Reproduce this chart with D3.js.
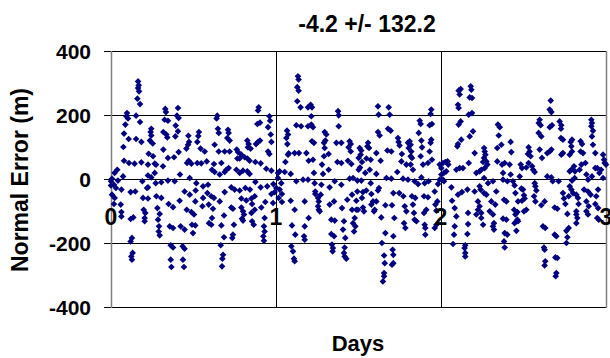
<!DOCTYPE html>
<html>
<head>
<meta charset="utf-8">
<script src="https://cdn.jsdelivr.net/npm/d3@7"></script>
<style>
  html, body { margin: 0; padding: 0; background: #fff; }
  svg text { font-family: "Liberation Sans", Arial, sans-serif; font-weight: bold; fill: #000; }
</style>
</head>
<body>
<svg id="chart" width="610" height="358"></svg>
<script>
// chart values
const title = "-4.2 +/- 132.2";
const xTicks = [0, 1, 2, 3];
const yTicks = [-400, -200, 0, 200, 400];

// day of each sample
const days = [
  0.164,0.168,0.164,0.170,0.160,0.176,0.097,0.093,0.103,0.087,0.079,0.107,0.075,0.079,0.109,0.143,0.184,0.152,0.176,0.152,
  0.184,0.329,0.333,0.325,0.345,0.317,0.335,0.341,0.406,0.400,0.410,0.392,0.406,0.390,0.244,0.240,0.244,0.236,0.253,0.228,
  0.255,0.224,0.265,0.469,0.467,0.457,0.473,0.533,0.529,0.523,0.543,0.568,0.317,0.345,0.382,0.410,0.471,0.461,0.487,0.523,
  0.547,0.580,0.273,0.265,0.244,0.224,0.315,0.418,0.386,0.345,0.305,0.271,0.224,0.190,0.218,0.038,0.022,0.073,0.006,0.000,
  0.042,0.018,0.063,0.030,0.006,0.022,0.018,0.059,0.063,0.063,0.000,0.119,0.147,0.194,0.224,0.198,0.208,0.204,0.204,0.135,
  0.119,0.275,0.305,0.281,0.295,0.285,0.291,0.289,0.295,0.349,0.376,0.416,0.446,0.477,0.513,0.517,0.477,0.511,0.558,0.584,
  0.588,0.558,0.459,0.487,0.503,0.422,0.446,0.491,0.511,0.497,0.554,0.592,0.594,0.356,0.376,0.127,0.119,0.131,0.123,0.127,
  0.362,0.376,0.434,0.446,0.362,0.366,0.436,0.442,
  0.644,0.640,0.648,0.653,0.628,0.653,0.689,0.719,0.624,0.669,0.709,0.713,0.705,0.719,0.762,0.770,0.766,0.780,0.790,0.826,
  0.834,0.830,0.846,0.810,0.826,0.840,0.895,0.891,0.887,0.903,0.891,0.903,0.879,0.960,0.964,0.952,0.968,0.972,0.952,0.960,
  0.875,0.907,0.941,0.972,0.699,0.713,0.689,0.760,0.780,0.800,0.826,0.840,0.659,0.628,0.612,0.729,0.749,0.780,0.814,0.842,
  0.875,0.907,0.947,0.984,0.608,0.624,0.689,0.659,0.618,0.612,0.608,0.729,0.739,0.790,0.820,0.851,0.871,0.790,0.800,0.806,
  0.794,0.800,0.855,0.851,0.871,0.855,0.865,0.911,0.935,0.972,0.982,0.931,0.927,0.931,0.923,0.927,0.745,0.739,0.735,0.685,
  0.669,0.685,0.665,0.679,0.675,0.673,1.012,1.022,1.012,1.032,1.002,1.022,0.992,1.036,1.016,1.036,1.053,1.089,1.073,1.057,
  1.077,1.069,1.063,1.073,1.067,1.133,1.137,1.129,1.137,1.129,1.149,1.123,1.152,1.194,1.113,1.139,1.184,1.198,1.123,1.164,
  1.194,1.089,1.113,1.174,1.097,1.117,1.174,1.170,1.174,1.093,1.103,1.109,1.113,1.194,
  1.210,1.218,1.214,1.214,1.224,1.218,1.230,1.224,1.230,1.234,1.238,1.238,1.255,1.259,1.255,1.259,1.265,1.275,1.271,1.198,
  1.295,1.305,1.299,1.291,1.295,1.319,1.291,1.279,1.319,1.285,1.376,1.380,1.380,1.366,1.396,1.372,1.396,1.325,1.356,1.396,
  1.352,1.325,1.335,1.356,1.335,1.352,1.339,1.345,1.343,1.400,1.412,1.406,1.420,1.416,1.412,1.416,1.426,1.446,1.453,1.440,
  1.453,1.436,1.457,1.446,1.467,1.432,1.461,1.461,1.487,1.477,1.467,1.481,1.473,1.507,1.517,1.513,1.501,1.521,1.509,1.501,
  1.493,1.517,1.493,1.527,1.487,1.521,1.497,1.527,1.533,1.558,1.554,1.564,1.548,1.574,1.541,1.568,1.574,1.547,1.578,1.588,
  1.578,1.598,1.594,1.608,1.634,1.608,1.624,1.618,1.608,1.618,1.622,1.618,1.628,1.683,1.689,1.679,1.695,1.675,1.699,1.669,
  1.699,1.663,1.703,1.638,1.663,1.642,1.655,1.659,1.655,1.655,1.648,1.711,1.707,1.711,1.711,1.703,1.717,1.711,1.747,1.772,
  1.739,1.743,1.749,1.763,1.760,1.735,1.770,1.800,1.800,1.804,1.790,1.780,1.790,1.776,1.784,
  1.810,1.816,1.820,1.816,1.824,1.816,1.830,1.871,1.877,1.865,1.881,1.885,1.877,1.891,1.881,1.840,1.861,1.824,1.844,1.830,
  1.836,1.840,1.851,1.941,1.937,1.931,1.945,1.941,1.937,1.931,1.921,1.945,1.901,1.925,1.897,1.921,1.911,1.897,1.901,1.905,
  1.905,1.962,1.982,1.992,1.966,1.972,1.972,1.962,1.978,2.002,1.992,2.012,2.026,2.040,2.044,2.018,2.032,2.002,2.012,2.018,
  2.063,2.067,2.083,2.093,2.083,2.079,2.073,2.093,2.113,2.133,2.103,2.099,2.123,2.107,2.119,2.107,2.103,2.113,2.119,2.107,
  2.180,2.184,2.174,2.188,2.168,2.188,2.174,2.194,2.204,2.168,2.160,2.164,2.164,2.160,2.147,2.143,2.147,2.147,2.103,2.127,
  2.204,2.214,2.234,2.234,2.240,2.224,2.234,2.224,2.214,2.261,2.265,2.269,2.261,2.275,2.255,2.281,2.265,2.244,2.261,2.285,
  2.261,2.275,2.244,2.255,2.244,2.315,2.335,2.305,2.329,2.315,2.321,2.315,2.321,2.295,2.345,2.356,2.350,2.341,2.366,2.341,
  2.370,2.386,2.376,2.376,2.402,2.382,2.396,2.376,2.396,2.386,2.402,2.382,2.386,
  2.422,2.426,2.416,2.422,2.436,2.446,2.451,2.467,2.443,2.463,2.451,2.463,2.446,2.457,2.483,2.491,2.477,2.487,2.497,2.503,
  2.507,2.491,2.503,2.517,2.467,2.531,2.537,2.527,2.543,2.531,2.517,2.552,2.558,2.568,2.568,2.572,2.578,2.564,2.572,2.598,
  2.592,2.604,2.592,2.608,2.598,2.612,2.608,2.628,2.618,2.632,2.624,2.628,2.632,2.628,2.665,2.659,2.669,2.659,2.673,2.644,
  2.659,2.669,2.644,2.669,2.677,2.689,2.705,2.689,2.699,2.693,2.705,2.699,2.695,2.719,2.729,2.727,2.727,2.739,2.729,2.739,
  2.713,2.739,2.745,2.754,2.774,2.766,2.760,2.766,2.760,2.774,2.780,2.790,2.794,2.810,2.780,2.790,2.806,2.780,2.794,2.790,
  2.786,2.794,2.812,2.800,2.820,2.830,2.834,2.820,2.820,2.826,2.820,2.840,2.846,2.855,2.846,2.861,2.851,2.875,2.881,2.891,
  2.867,2.891,2.881,2.895,2.881,2.891,2.911,2.915,2.911,2.921,2.915,2.921,2.935,2.935,2.915,2.907,2.941,2.952,2.935,2.952,
  2.947,2.956,2.982,2.988,2.992,2.970,2.982,3.000,2.947,2.960
];

// normal error (m) of each sample
const errors = [
  305,293,284,274,251,234,206,196,189,170,142,125,100,57,50,48,52,198,178,125,
  116,219,209,185,182,147,139,130,222,198,191,167,149,133,157,147,136,120,111,79,
  71,45,48,135,107,95,116,147,134,116,95,86,92,66,68,84,57,50,48,50,
  49,55,45,19,5,11,40,14,-7,-5,-10,-13,-26,-7,-28,29,19,8,1,-7,
  -5,-18,-33,-28,-49,-59,-78,-80,-103,-117,-20,-41,-39,-59,-61,-96,-106,-122,-132,-120,
  -125,-54,-59,-91,-109,-127,-148,-164,-176,-78,-88,-68,-39,-49,-36,-13,3,-70,-59,-44,
  -18,-23,-96,-103,-111,-148,-158,-143,-145,-169,-85,-80,-138,-148,-153,-184,-195,-231,-242,-252,
  -207,-214,-210,-218,-252,-275,-252,-275,
  198,189,157,144,107,86,86,86,47,50,154,144,128,120,92,84,64,64,76,120,
  109,99,95,68,64,57,224,214,172,176,116,120,109,196,182,162,139,116,86,78,
  53,49,32,26,29,34,22,29,19,26,24,16,14,22,29,-26,-33,-36,-28,-33,
  -9,-26,-23,-16,-54,-59,-41,-70,-93,-122,-143,-89,-93,-61,-67,-61,-54,-89,-101,-111,
  -124,-130,-78,-106,-96,-132,-143,-89,-72,-47,-75,-122,-148,-164,-179,-193,-143,-174,-184,-114,
  -145,-182,-207,-237,-249,-273,19,24,3,-13,-28,-33,-41,-47,-59,-72,22,16,76,53,
  80,109,128,139,151,321,311,287,276,243,224,168,165,224,81,81,81,57,-7,-2,
  -2,-68,-96,-70,-145,-174,-148,-179,-190,-210,-226,-249,-257,165,
  232,224,196,170,162,118,113,60,19,-13,-39,-47,-59,-70,-85,-96,-101,-18,-49,-122,
  147,139,120,113,97,78,71,45,29,16,212,199,165,113,113,53,50,-26,-7,-18,
  -70,-80,-127,-130,-172,-179,-205,-216,-226,-91,-132,-158,-184,-214,-231,-242,-249,118,109,99,
  86,57,47,1,3,-65,-49,-96,-96,-122,-138,-148,-164,97,89,76,66,53,36,29,
  -5,-5,-39,-41,-68,-59,-96,-89,-101,113,102,97,64,60,19,29,-13,-36,-47,-70,
  -80,-96,-101,81,57,16,-28,-36,-70,227,201,147,136,224,201,157,151,89,86,3,
  1,-82,-82,-120,-169,-200,-239,-263,-294,-304,-320,-179,-221,-237,-263,-268,-122,-44,-44,-54,
  128,116,105,78,55,22,1,-2,113,97,45,-85,-101,-138,-153,
  118,107,86,71,66,45,29,182,172,144,120,99,71,45,5,-7,-16,-54,-59,-80,
  -106,-127,-132,217,203,168,172,123,113,86,50,60,-13,-7,-54,-57,-96,-106,-143,-153,
  -174,-39,-16,-2,-80,-99,-143,-153,-70,34,45,50,53,55,45,19,24,14,-2,-7,
  -26,-68,-91,-117,-148,-174,-203,29,34,34,109,102,123,170,180,222,232,264,281,276,
  290,279,255,253,201,206,133,149,81,50,-33,-106,-141,-172,-207,-216,-231,-242,-49,-41,
  -39,19,24,-23,-33,-70,-85,-96,-111,97,86,76,66,55,53,45,34,29,3,-13,
  -44,-49,-106,-143,-122,-7,-39,-70,-80,-111,-138,-148,-158,-101,170,162,136,97,107,55,
  45,50,19,-2,-7,-65,-70,-124,-127,-169,-174,-195,-214,
  116,84,45,14,-7,-20,-44,-70,-96,-103,-111,-127,-138,-162,45,34,8,-30,-33,-51,
  -61,-68,-101,-96,-132,99,86,78,71,50,36,40,29,22,-13,-23,-36,-54,-70,185,
  175,168,144,133,92,66,-82,-70,-148,-153,-214,-221,-257,-270,245,217,209,162,168,81,
  86,92,8,5,-7,-89,-93,-174,-179,-245,-247,-294,-304,180,168,157,128,123,76,81,
  -7,-44,-61,-78,-54,-109,-162,-182,-200,-153,-23,-33,-5,3,24,29,40,76,86,102,
  116,123,24,-44,-49,-59,-78,-101,-111,-122,-138,29,118,109,86,81,45,50,14,-2,
  -33,-39,-70,-85,-101,-111,185,175,165,151,133,107,81,34,8,-49,-54,-33,-78,-91,
  -122,-127,76,60,50,29,3,45,34,19
];

const data = days.map((d, i) => ({ day: d, err: errors[i] }));

const svg = d3.select("#chart");
const plot = { left: 111, right: 606, top: 51, bottom: 307 };

const x = d3.scaleLinear().domain([0, 3]).range([plot.left, plot.right]);
const y = d3.scaleLinear().domain([-400, 400]).range([plot.bottom, plot.top]);

// horizontal grid lines + left tick marks
svg.append("g")
  .selectAll("line")
  .data(yTicks)
  .enter()
  .append("line")
  .attr("x1", plot.left - 7)
  .attr("x2", plot.right)
  .attr("y1", d => Math.round(y(d)) + 0.5)
  .attr("y2", d => Math.round(y(d)) + 0.5)
  .attr("stroke", "#000")
  .attr("stroke-width", 1);

// vertical grid lines
svg.append("g")
  .selectAll("line")
  .data([1, 2])
  .enter()
  .append("line")
  .attr("x1", d => Math.round(x(d)) + 0.5)
  .attr("x2", d => Math.round(x(d)) + 0.5)
  .attr("y1", plot.top)
  .attr("y2", plot.bottom)
  .attr("stroke", "#000");

// plot frame (grey sides)
svg.append("g")
  .selectAll("line")
  .data([0, 3])
  .enter()
  .append("line")
  .attr("x1", d => Math.round(x(d)) + 0.5)
  .attr("x2", d => Math.round(x(d)) + 0.5)
  .attr("y1", plot.top)
  .attr("y2", plot.bottom + 1)
  .attr("stroke", "#808080")
  .attr("stroke-width", 1.5);

// y tick labels
svg.append("g")
  .selectAll("text")
  .data(yTicks)
  .enter()
  .append("text")
  .attr("x", 91)
  .attr("y", d => y(d) + 7.5)
  .attr("text-anchor", "end")
  .style("font-size", "21px")
  .text(d => d);

// diamonds
const diamond = d3.symbol().type(d3.symbolSquare).size(22);
svg.append("g")
  .selectAll("path")
  .data(data)
  .enter()
  .append("path")
  .attr("d", diamond)
  .attr("transform", d => "translate(" + x(d.day) + "," + y(d.err) + ") rotate(45)")
  .attr("fill", "#000080");

// x tick labels sit just below the zero line
svg.append("g")
  .selectAll("text")
  .data(xTicks)
  .enter()
  .append("text")
  .attr("x", d => x(d))
  .attr("y", 225)
  .attr("text-anchor", "middle")
  .style("font-size", "23px")
  .text(d => d);

// titles
svg.append("text")
  .attr("x", 367)
  .attr("y", 32)
  .attr("text-anchor", "middle")
  .style("font-size", "23px")
  .text(title);

svg.append("text")
  .attr("x", 358)
  .attr("y", 351)
  .attr("text-anchor", "middle")
  .style("font-size", "22px")
  .text("Days");

svg.append("text")
  .attr("transform", "translate(28,180) rotate(-90)")
  .attr("text-anchor", "middle")
  .style("font-size", "23px")
  .text("Normal Error (m)");
</script>
</body>
</html>
